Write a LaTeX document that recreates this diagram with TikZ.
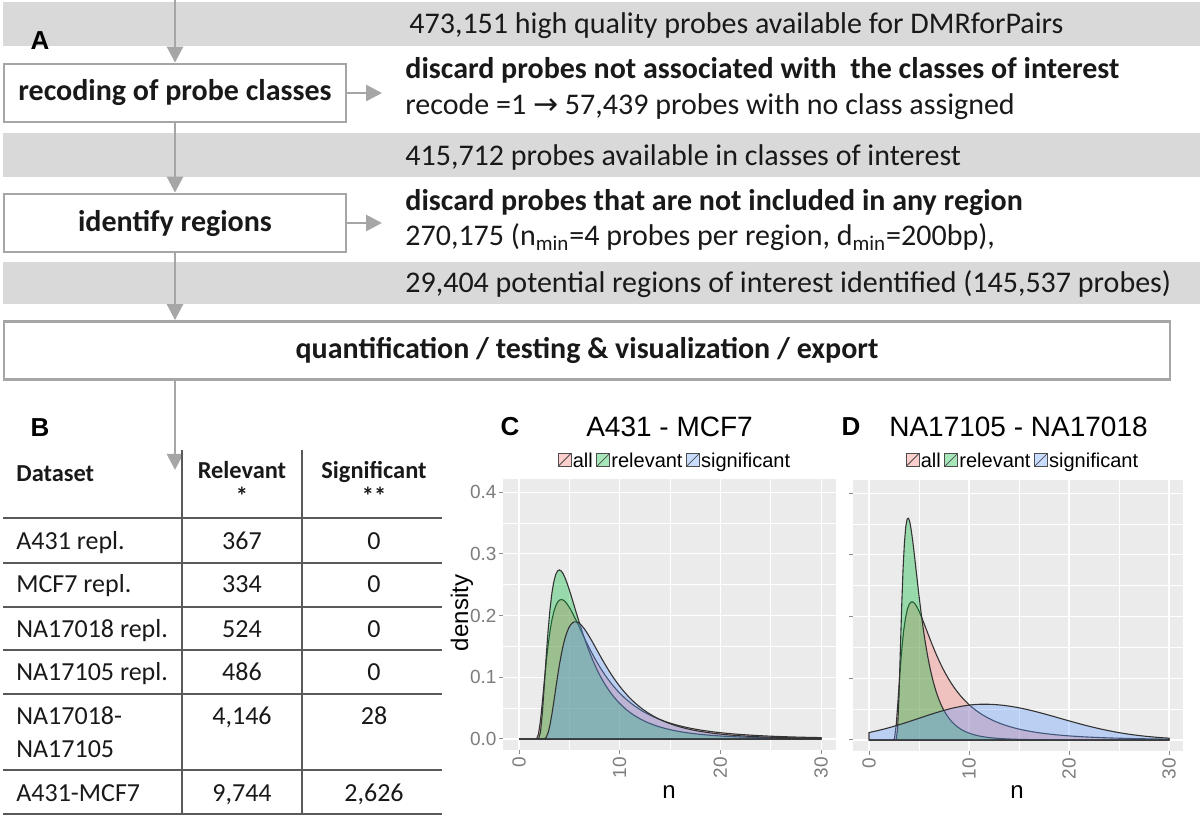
\documentclass[tikz,border=0pt]{standalone}
\usepackage{fontspec}
\setmainfont{Carlito}
\newfontfamily\plotfont{Liberation Sans}
\newfontfamily\arrowfont{DejaVu Sans}
\usepackage{tikz}
\usetikzlibrary{arrows.meta, positioning, calc}
\definecolor{arrowgray}{RGB}{166,166,166}
\definecolor{bandgray}{RGB}{217,217,217}
\definecolor{panelgray}{RGB}{235,235,235}
\definecolor{rulegray}{RGB}{90,90,90}
\definecolor{ticklabel}{RGB}{125,125,125}
\definecolor{inktext}{RGB}{25,25,25}
\definecolor{allred}{RGB}{248,118,109}
\definecolor{relgreen}{RGB}{0,186,56}
\definecolor{sigblue}{RGB}{97,156,255}
\tikzset{
  stage/.style={rectangle, draw=arrowgray, line width=1.4pt, fill=white,
    minimum width=171pt, minimum height=29pt, text=inktext,
    font=\fontsize{15}{17.5}\selectfont\bfseries},
  band/.style={fill=bandgray},
  bandtext/.style={anchor=base west, inner sep=0pt, text=inktext,
    font=\fontsize{15}{17.5}\selectfont},
  notebold/.style={bandtext, font=\fontsize{15}{17.5}\selectfont\bfseries},
  arr/.style={-{Triangle[length=8pt,width=8pt]}, line width=1.4pt, arrowgray},
  letter/.style={font=\plotfont\fontsize{13}{13}\selectfont\bfseries},
  cell/.style={anchor=base, inner sep=0pt, text=inktext, font=\fontsize{13}{16}\selectfont},
  namecell/.style={cell, anchor=base west},
  headcell/.style={cell, font=\fontsize{12.2}{13}\selectfont\bfseries},
  rule/.style={rulegray, line width=1pt},
  panel/.style={fill=panelgray},
  majorgrid/.style={white, line width=0.6pt},
  minorgrid/.style={white, line width=0.3pt},
  tickmark/.style={black!45, line width=0.5pt},
  ticklab/.style={inner sep=1pt, text=ticklabel, font=\plotfont\fontsize{9.5}{9.5}\selectfont},
  axtitle/.style={inner sep=0pt, font=\plotfont\fontsize{12}{12}\selectfont},
  plottitle/.style={inner sep=0pt, font=\plotfont\fontsize{14}{14}\selectfont},
  dens/.style={draw=black!80, line width=0.55pt, fill opacity=0.35},
  legkey/.style={rectangle, draw=black!70, line width=0.4pt, minimum size=6.5pt,
    inner sep=0pt, fill opacity=0.35,
    path picture={\draw[black!70, line width=0.4pt] (path picture bounding box.south west)
      -- (path picture bounding box.north east);}},
  legtext/.style={inner sep=0pt, text height=7.3pt, text depth=0pt,
    font=\plotfont\fontsize{10}{10}\selectfont},
}

\begin{document}
\begin{tikzpicture}[x=0.5pt, y=-0.5pt,
  declare function={
    lgn(\t,\a,\p,\h,\s)=\h*exp(-ln((\t-\a)/(\p-\a))*ln((\t-\a)/(\p-\a))/(2*\s*\s));
    gss(\t,\p,\h,\w)=\h*exp(-(\t-\p)*(\t-\p)/(2*\w*\w));
  }]

\fill[white] (0,0) rectangle (1200,817);
\useasboundingbox (0,0) rectangle (1200,817);

% A: pipeline
\fill[band] (3,2) rectangle (1200,46);
\fill[band] (3,133) rectangle (1200,177);
\fill[band] (3,262) rectangle (1200,304);

\node[letter] (labA) at (40,41) {A};

\node[stage] (recode) at (175,93) {recoding of probe classes};
\node[stage] (regions) at (175,223) {identify regions};
\node[stage, minimum width=583pt] (quant) at (587,350.5) {quantification / testing \& visualization / export};

\node[bandtext] (hq) at (409,34) {473,151 high quality probes available for DMRforPairs};
\node[notebold] (discardA) at (405,79) {discard probes not associated with\ \ the classes of interest};
\node[bandtext] (recoded) at (405,115) {recode =1 {\arrowfont →} 57,439 probes with no class assigned};
\node[bandtext] (classes) at (405,166) {415,712 probes available in classes of interest};
\node[notebold] (discardB) at (405,211) {discard probes that are not included in any region};
\node[bandtext] (inregion) at (405,246) {270,175 (n\textsubscript{min}=4 probes per region, d\textsubscript{min}=200bp),};
\node[bandtext] (potential) at (405,293) {29,404 potential regions of interest identified (145,537 probes)};

\coordinate (start) at (175,0);
\coordinate (recodetip) at (382,93);
\coordinate (regiontip) at (382,223);
\coordinate (tabletop) at (175,470);

\draw[arr] (start) -- (recode);
\draw[arr] (recode) -- (regions);
\draw[arr] (regions.south) -- (regions.south |- quant.north);
\draw[arr] (regions.south |- quant.south) -- (tabletop);
\draw[arr] (recode) -- (recodetip);
\draw[arr] (regions) -- (regiontip);

% B: table
\node[letter] (labB) at (40,428) {B};
\draw[rule] (182,450) -- (182,814);
\draw[rule] (302,450) -- (302,814);
\foreach \ry in {518,563,607,650,694,770,814}
  \draw[rule] (3,\ry) -- (442,\ry);

\node[headcell, anchor=base west] (hset) at (16,482) {Dataset};
\node[headcell] (hrel) at (242,479) {Relevant};
\node[headcell] (hrelstar) at (242,505) {*};
\node[headcell] (hsig) at (374,479) {Significant};
\node[headcell] (hsigstar) at (374,505) {**};

\foreach \name/\rel/\sig/\yy [count=\k] in {A431 repl./367/0/550, MCF7 repl./334/0/593,
    NA17018 repl./524/0/638, NA17105 repl./486/0/681, A431-MCF7/{9,744}/{2,626}/801} {
  \node[namecell] (name\k) at (16,\yy) {\name};
  \node[cell] (rel\k) at (242,\yy) {\rel};
  \node[cell] (sig\k) at (374,\yy) {\sig};
}
\node[namecell] (pairname) at (16,725) {NA17018-};
\node[namecell] (pairnameb) at (16,758) {NA17105};
\node[cell] (pairrel) at (242,725) {4,146};
\node[cell] (pairsig) at (374,725) {28};

% C: A431 - MCF7
\node[letter] (labC) at (510,427) {C};
\node[plottitle] (titleC) at (669.5,427) {A431 - MCF7};
\node[legkey, fill=allred] (keyCall) at (564.5,460) {};
\node[legtext, right=0.5pt of keyCall] (labCall) {all};
\node[legkey, fill=relgreen, right=1.5pt of labCall] (keyCrel) {};
\node[legtext, right=0.5pt of keyCrel] (labCrel) {relevant};
\node[legkey, fill=sigblue, right=1.5pt of labCrel] (keyCsig) {};
\node[legtext, right=0.5pt of keyCsig] (labCsig) {significant};
\node[axtitle, rotate=90] (densC) at (462,613) {density};
\node[axtitle] (nC) at (669,792) {n};

\begin{scope}[shift={(519,739)}, x=5.035pt, y=308.5pt]
  \fill[panel] (-1.55,-0.0178) rectangle (31.45,0.4213);
  \foreach \gx in {5,15,25} \draw[minorgrid] (\gx,-0.0178) -- (\gx,0.4213);
  \foreach \gy in {0.05,0.15,0.25,0.35} \draw[minorgrid] (-1.55,\gy) -- (31.45,\gy);
  \foreach \gx in {0,10,20,30} \draw[majorgrid] (\gx,-0.0178) -- (\gx,0.4213);
  \foreach \gy in {0,0.1,0.2,0.3,0.4} \draw[majorgrid] (-1.55,\gy) -- (31.45,\gy);
  \foreach \gx in {0,10,20,30}
    \draw[tickmark] (\gx,-0.0178) -- ++(0pt,-2.2pt) node[ticklab, rotate=90, anchor=east] (cx\gx) {\gx};
  \foreach \gy/\lab [count=\k] in {0/0.0,0.1/0.1,0.2/0.2,0.3/0.3,0.4/0.4}
    \draw[tickmark] (-1.55,\gy) -- ++(-2.2pt,0pt) node[ticklab, anchor=east] (cy\k) {\lab};
  % densities
  \filldraw[dens, fill=allred] (0,0) -- (1.6,0)
    -- plot[domain=1.75:30, samples=150] (\x, {lgn(\x,1.6,4.2,0.226,0.787)}) -- (30,0) -- cycle;
  \filldraw[dens, fill=relgreen] (0,0) -- (1.8,0)
    -- plot[domain=1.95:30, samples=150] (\x, {lgn(\x,1.8,4.0,0.274,0.745)}) -- (30,0) -- cycle;
  \filldraw[dens, fill=sigblue] (0,0) -- (2.2,0)
    -- plot[domain=2.35:30, samples=150] (\x, {lgn(\x,2.2,5.6,0.19,0.657)}) -- (30,0) -- cycle;
\end{scope}

% D: NA17105 - NA17018
\node[letter] (labD) at (851,427) {D};
\node[plottitle] (titleD) at (1018.5,427) {NA17105 - NA17018};
\node[legkey, fill=allred] (keyDall) at (912.5,460) {};
\node[legtext, right=0.5pt of keyDall] (labDall) {all};
\node[legkey, fill=relgreen, right=1.5pt of labDall] (keyDrel) {};
\node[legtext, right=0.5pt of keyDrel] (labDrel) {relevant};
\node[legkey, fill=sigblue, right=1.5pt of labDrel] (keyDsig) {};
\node[legtext, right=0.5pt of keyDsig] (labDsig) {significant};
\node[axtitle] (nD) at (1017,792) {n};

\begin{scope}[shift={(869,740)}, x=5pt, y=308.5pt]
  \fill[panel] (-1.6,-0.0178) rectangle (31.4,0.4213);
  \foreach \gx in {5,15,25} \draw[minorgrid] (\gx,-0.0178) -- (\gx,0.4213);
  \foreach \gy in {0.05,0.15,0.25,0.35} \draw[minorgrid] (-1.6,\gy) -- (31.4,\gy);
  \foreach \gx in {0,10,20,30} \draw[majorgrid] (\gx,-0.0178) -- (\gx,0.4213);
  \foreach \gy in {0,0.1,0.2,0.3,0.4} \draw[majorgrid] (-1.6,\gy) -- (31.4,\gy);
  \foreach \gx in {0,10,20,30}
    \draw[tickmark] (\gx,-0.0178) -- ++(0pt,-2.2pt) node[ticklab, rotate=90, anchor=east] (dx\gx) {\gx};
  \foreach \gy in {0,0.1,0.2,0.3,0.4}
    \draw[tickmark] (-1.6,\gy) -- ++(-2.2pt,0pt);
  % densities
  \filldraw[dens, fill=allred] (0,0) -- (2.4,0)
    -- plot[domain=2.55:30, samples=150] (\x, {lgn(\x,2.4,4.3,0.224,0.84)}) -- (30,0) -- cycle;
  \filldraw[dens, fill=relgreen] (0,0) -- (2.6,0)
    -- plot[domain=2.72:30, samples=200] (\x, {lgn(\x,2.6,3.9,0.36,0.66)}) -- (30,0) -- cycle;
  \filldraw[dens, fill=sigblue] (0,0)
    -- plot[domain=0:11.5, samples=60] (\x, {gss(\x,11.5,0.058,6.5)})
    -- plot[domain=11.5:30, samples=80] (\x, {gss(\x,11.5,0.058,7.6)}) -- (30,0) -- cycle;
\end{scope}

\end{tikzpicture}
\end{document}
